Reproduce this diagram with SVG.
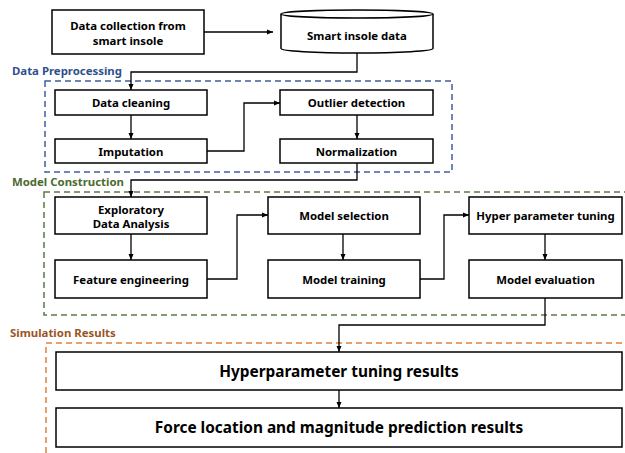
<svg xmlns="http://www.w3.org/2000/svg" width="625" height="453" viewBox="0 0 625 453">
<defs>
<marker id="arr" viewBox="0 0 6 6" refX="6" refY="3" markerWidth="6" markerHeight="6" markerUnits="userSpaceOnUse" orient="auto">
<path d="M0,0.5 L6,3 L0,5.5 z" fill="#000"/>
</marker>
</defs>
<style>
.box{fill:#fff;stroke:#000;stroke-width:1.5}
.t{font-family:"Noto Sans","Liberation Sans",sans-serif;font-weight:bold;font-size:11.4px;fill:#000;text-anchor:middle;dominant-baseline:central}
.big{font-size:15.4px}
.lbl{font-family:"Noto Sans","Liberation Sans",sans-serif;font-weight:bold;font-size:11.4px}
.conn{fill:none;stroke:#000;stroke-width:1.3;marker-end:url(#arr)}
.grp{fill:none;stroke-width:1.5;stroke-dasharray:6,4}
</style>
<rect width="625" height="453" fill="#fff"/>

<g id="groups">
<rect class="grp" x="45" y="81" width="407" height="91" stroke="#3F5F9F"/>
<text class="lbl" x="12" y="75" fill="#2F4F8F">Data Preprocessing</text>
<rect class="grp" x="44" y="192" width="590" height="123" stroke="#5B7A48"/>
<text class="lbl" x="12" y="186" fill="#4A6B2F">Model Construction</text>
<rect class="grp" x="46" y="343" width="590" height="130" stroke="#E0803F"/>
<text class="lbl" x="10" y="337" fill="#9A5525">Simulation Results</text>
</g>

<g id="connectors">
<path class="conn" d="M204,32 H273"/>
<path class="conn" d="M357,53 V72 H131 V90"/>
<path class="conn" d="M131,115 V139"/>
<path class="conn" d="M207,151 H244 V103 H280"/>
<path class="conn" d="M357,115 V139"/>
<path class="conn" d="M357,163 V180 H131 V197"/>
<path class="conn" d="M131,234 V260"/>
<path class="conn" d="M207,279 H237 V215 H268"/>
<path class="conn" d="M343,234 V260"/>
<path class="conn" d="M420,279 H444 V215 H469"/>
<path class="conn" d="M545,234 V260"/>
<path class="conn" d="M545,298 V325 H339 V352"/>
<path class="conn" d="M339,390 V408"/>
</g>

<g id="n-collect">
<rect class="box" x="52" y="10" width="152" height="44"/>
<text class="t" x="128" y="25.5">Data collection from</text>
<text class="t" x="128" y="40">smart insole</text>
</g>
<g id="n-smartdata">
<path class="box" d="M281,14 V48.5 A76,4.5 0 0 0 433,48.5 V14"/>
<ellipse class="box" cx="357" cy="14" rx="76" ry="4"/>
<text class="t" x="357" y="35">Smart insole data</text>
</g>
<g id="n-cleaning">
<rect class="box" x="55" y="90" width="152" height="25"/>
<text class="t" x="131" y="102.5">Data cleaning</text>
</g>
<g id="n-imputation">
<rect class="box" x="55" y="139" width="152" height="24"/>
<text class="t" x="131" y="151">Imputation</text>
</g>
<g id="n-outlier">
<rect class="box" x="280" y="90" width="153" height="25"/>
<text class="t" x="356.5" y="102.5">Outlier detection</text>
</g>
<g id="n-normalization">
<rect class="box" x="280" y="139" width="153" height="24"/>
<text class="t" x="356.5" y="151">Normalization</text>
</g>
<g id="n-eda">
<rect class="box" x="55" y="197" width="152" height="37"/>
<text class="t" x="131" y="209">Exploratory</text>
<text class="t" x="131" y="223">Data Analysis</text>
</g>
<g id="n-feature">
<rect class="box" x="55" y="260" width="152" height="38"/>
<text class="t" x="131" y="279">Feature engineering</text>
</g>
<g id="n-selection">
<rect class="box" x="268" y="197" width="152" height="37"/>
<text class="t" x="344" y="215.5">Model selection</text>
</g>
<g id="n-training">
<rect class="box" x="268" y="260" width="152" height="38"/>
<text class="t" x="344" y="279">Model training</text>
</g>
<g id="n-hpt">
<rect class="box" x="469" y="197" width="153" height="37"/>
<text class="t" x="545.5" y="215.5">Hyper parameter tuning</text>
</g>
<g id="n-evaluation">
<rect class="box" x="469" y="260" width="153" height="38"/>
<text class="t" x="545.5" y="279">Model evaluation</text>
</g>
<g id="n-hptresults">
<rect class="box" x="56" y="352" width="566" height="38"/>
<text class="t big" x="339" y="371">Hyperparameter tuning results</text>
</g>
<g id="n-force">
<rect class="box" x="56" y="408" width="566" height="39"/>
<text class="t big" x="339" y="427.5">Force location and magnitude prediction results</text>
</g>
</svg>
